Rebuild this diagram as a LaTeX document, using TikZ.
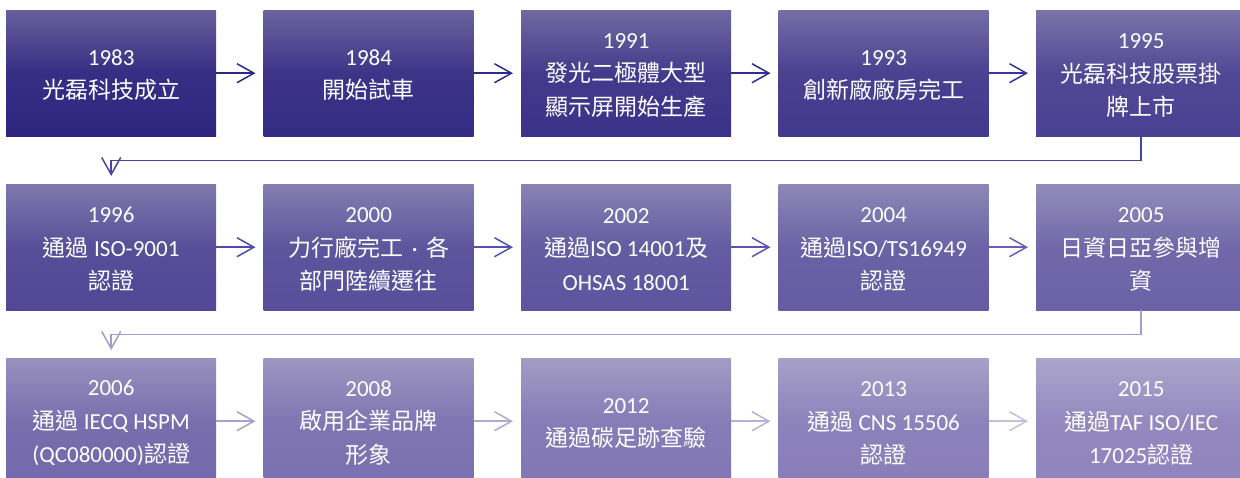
\documentclass[tikz,border=0pt]{standalone}
\usepackage{fontspec}
\setmainfont{Carlito}
\newfontfamily\cjkf{Noto Sans CJK TC}
\newcommand\C[1]{{\cjkf #1}}
\newcommand\Y[1]{\rule{0pt}{19.5pt}#1}
\usetikzlibrary{arrows.meta}
\definecolor{botD}{HTML}{2E2580}
\definecolor{botL}{HTML}{8F84BD}
\definecolor{topD}{HTML}{675F9A}
\definecolor{topL}{HTML}{ABA6CC}
\newcommand\mkcol[2]{\colorlet{bt#1}{botL!#2!botD}\colorlet{tp#1}{topL!#2!topD}\colorlet{md#1}{bt#1!85!tp#1}}
\mkcol{1}{0}\mkcol{2}{7}\mkcol{3}{14}\mkcol{4}{21}\mkcol{5}{29}
\mkcol{6}{36}\mkcol{7}{43}\mkcol{8}{50}\mkcol{9}{57}\mkcol{10}{64}
\mkcol{11}{71}\mkcol{12}{79}\mkcol{13}{86}\mkcol{14}{93}\mkcol{15}{100}
\definecolor{ln1}{HTML}{2C2888}
\definecolor{ln2}{HTML}{2E2A8C}
\definecolor{ln3}{HTML}{302C90}
\definecolor{ln4}{HTML}{3A349C}
\definecolor{ln5}{HTML}{4A42A0}
\definecolor{ln6}{HTML}{5048AA}
\definecolor{ln7}{HTML}{5650AE}
\definecolor{ln8}{HTML}{5C54B0}
\definecolor{ln9}{HTML}{6860B4}
\definecolor{ln10}{HTML}{A29CCA}
\definecolor{ln11}{HTML}{A6A0CC}
\definecolor{ln12}{HTML}{AEAAD2}
\definecolor{ln13}{HTML}{B4B0D6}
\definecolor{ln14}{HTML}{C4C0DC}
\tikzset{
  stepbox/.style={anchor=north west, minimum width=210pt, minimum height=126pt,
    inner sep=0pt, align=center, text=white,
    font=\fontsize{23}{33.5}\selectfont,
    top color=tp#1, bottom color=bt#1, middle color=md#1},
  conn/.style={draw=#1, line width=1.5pt,
    -{Straight Barb[length=17pt,width=19pt]}, shorten >=8pt}
}
\begin{document}
\begin{tikzpicture}[x=1pt,y=-1pt]
\useasboundingbox (0,0) rectangle (1240,477);
\begin{scope}
\clip (0,0) rectangle (1240,477);
\node[stepbox=1]  (b1)  at (6,10)     {\Y{1983}\\\C{光磊科技成立}};
\node[stepbox=2]  (b2)  at (263.5,10) {\Y{1984}\\\C{開始試車}};
\node[stepbox=3]  (b3)  at (521,10)   {\Y{1991}\\\C{發光二極體大型}\\\C{顯示屏開始生產}};
\node[stepbox=4]  (b4)  at (778.5,10) {\Y{1993}\\\C{創新廠廠房完工}};
\node[stepbox=5]  (b5)  at (1036,10)  {\Y{1995}\\\C{光磊科技股票掛}\\\C{牌上市}};
\node[stepbox=6]  (b6)  at (6,184)     {\Y{1996}\\\C{通過} ISO-9001\\\C{認證}};
\node[stepbox=7]  (b7)  at (263.5,184) {\Y{2000}\\\C{力行廠完工}\hspace{8.5pt}·\hspace{8.5pt}\C{各}\\\C{部門陸續遷往}};
\node[stepbox=8]  (b8)  at (521,184)   {\Y{2002}\\\C{通過}ISO 14001\C{及}\\OHSAS 18001};
\node[stepbox=9]  (b9)  at (778.5,184) {\Y{2004}\\\C{通過}ISO/TS16949\\\C{認證}};
\node[stepbox=10] (b10) at (1036,184)  {\Y{2005}\\\C{日資日亞參與增}\\\C{資}};
\node[stepbox=11] (b11) at (6,358)     {\Y{2006}\\\C{通過} IECQ HSPM\\(QC080000)\C{認證}};
\node[stepbox=12] (b12) at (263.5,358) {\Y{2008}\\\C{啟用企業品牌}\\\C{形象}};
\node[stepbox=13] (b13) at (521,358)   {\Y{2012}\\\C{通過碳足跡查驗}};
\node[stepbox=14] (b14) at (778.5,358) {\Y{2013}\\\C{通過} CNS 15506\\\C{認證}};
\node[stepbox=15] (b15) at (1036,358)  {\Y{2015}\\\C{通過}TAF ISO/IEC\\17025\C{認證}};
\draw[conn=ln1] (b1) -- (b2);
\draw[conn=ln2] (b2) -- (b3);
\draw[conn=ln3] (b3) -- (b4);
\draw[conn=ln4] (b4) -- (b5);
\draw[conn=ln5] (b5.south) -- ++(0,24) -| (b6.north);
\draw[conn=ln6] (b6) -- (b7);
\draw[conn=ln7] (b7) -- (b8);
\draw[conn=ln8] (b8) -- (b9);
\draw[conn=ln9] (b9) -- (b10);
\draw[conn=ln10] (b10.south) -- ++(0,24) -| (b11.north);
\draw[conn=ln11] (b11) -- (b12);
\draw[conn=ln12] (b12) -- (b13);
\draw[conn=ln13] (b13) -- (b14);
\draw[conn=ln14] (b14) -- (b15);
\end{scope}
\end{tikzpicture}
\end{document}
